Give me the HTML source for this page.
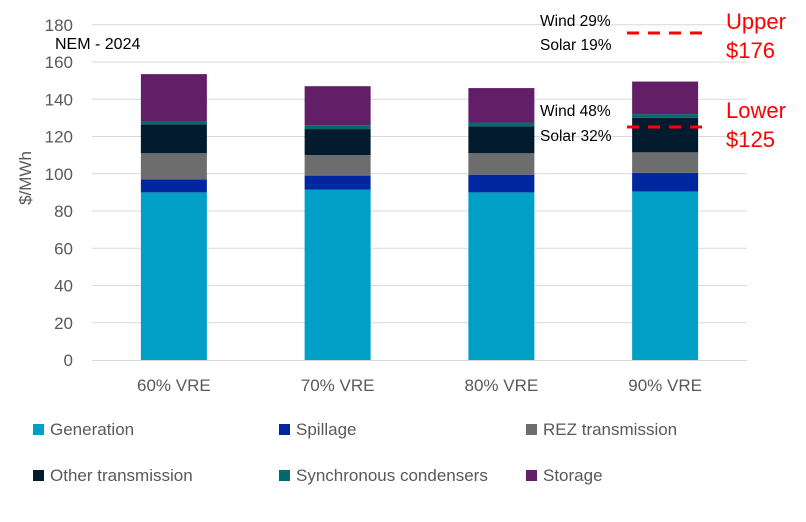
<!DOCTYPE html>
<html><head><meta charset="utf-8"><style>
body{margin:0;background:#fff;font-family:"Liberation Sans",sans-serif}
svg text{font-family:"Liberation Sans",sans-serif}
</style></head><body>
<svg width="806" height="517" xmlns="http://www.w3.org/2000/svg">
<g id="grid"></g>
<g id="bars"></g>
<g id="axes"></g>
<text x="55" y="49" font-size="16" fill="#000">NEM - 2024</text>
<text transform="translate(31,178) rotate(-90)" text-anchor="middle" font-size="17" fill="#595959">$/MWh</text>
<g>
<text x="540" y="26" font-size="15.5" fill="#000">Wind 29%</text>
<text x="540" y="50" font-size="15.5" fill="#000">Solar 19%</text>
<line x1="627" y1="33" x2="704" y2="33" stroke="#f00" stroke-width="3" stroke-dasharray="12,9"/>
<text x="726" y="29" font-size="22" fill="#f00">Upper</text>
<text x="726" y="58" font-size="22" fill="#f00">$176</text>
</g>
<g>
<text x="540" y="116" font-size="15.5" fill="#000">Wind 48%</text>
<text x="540" y="141" font-size="15.5" fill="#000">Solar 32%</text>
<line x1="627" y1="127" x2="704" y2="127" stroke="#f00" stroke-width="3" stroke-dasharray="12,9"/>
<text x="726" y="118" font-size="22" fill="#f00">Lower</text>
<text x="726" y="147" font-size="22" fill="#f00">$125</text>
</g>
<g id="legend"></g>
</svg>
<script>
const categories=["60% VRE","70% VRE","80% VRE","90% VRE"];
const seriesNames=["Generation","Spillage","REZ transmission","Other transmission","Synchronous condensers","Storage"];
const generation=[90,91.5,90,90.5];
const spillage=[7,7.5,9.5,10];
const rezTransmission=[14,11,11.5,11];
const otherTransmission=[15.5,14,14.5,18.5];
const syncCondensers=[1.5,2,2,2];
const storage=[25.5,21,18.5,17.5];
const yTicks=[0,20,40,60,80,100,120,140,160,180];
const colors=["#00A0C6","#0026A0","#6D6D6D","#021B2E","#006A6E","#621F67"];
const series=[generation,spillage,rezTransmission,otherTransmission,syncCondensers,storage];
const NS="http://www.w3.org/2000/svg";
const y=v=>360-v*1.8625;
const x0=92,x1=747,step=(x1-x0)/categories.length;
const cx=i=>x0+step*(i+0.5);
function mk(tag,attrs,parent,txt){const e=document.createElementNS(NS,tag);for(const k in attrs)e.setAttribute(k,attrs[k]);if(txt!==undefined)e.textContent=txt;parent.appendChild(e);return e;}
const grid=document.getElementById('grid'),bars=document.getElementById('bars'),axes=document.getElementById('axes'),legend=document.getElementById('legend');
yTicks.forEach(t=>{
 if(t>0){const l=mk('line',{x1:x0,x2:x1,y1:y(t),y2:y(t),stroke:'#d9d9d9','stroke-width':1},grid);
 
 }
 const tx=mk('text',{x:73,y:y(t)+6,'text-anchor':'end','font-size':17,fill:'#595959'},axes,String(t));
 
 
});
const base=mk('line',{x1:x0,x2:x1,y1:y(0)+0.5,y2:y(0)+0.5,stroke:'#d9d9d9','stroke-width':1},axes);


const bw=66;
categories.forEach((c,i)=>{
 let acc=0;
 series.forEach((s,j)=>{
  const v=s[i];
  const r=mk('rect',{x:cx(i)-bw/2,y:y(acc+v),width:bw,height:v*1.8625,fill:colors[j]},bars);
  
  
  acc+=v;
 });
 const t=mk('text',{x:cx(i),y:391,'text-anchor':'middle','font-size':17,fill:'#595959'},axes,c);
 
 
});
const lx=[33,279,526],ly=[429,475];
seriesNames.forEach((n,j)=>{
 const px=lx[j%3],py=ly[Math.floor(j/3)];
 const g=mk('g',{},legend);
 
 
 mk('rect',{x:px,y:py-5,width:11,height:11,fill:colors[j]},g);
 mk('text',{x:px+17,y:py+6,'font-size':17,fill:'#595959'},g,n);
});
</script>
</body></html>
